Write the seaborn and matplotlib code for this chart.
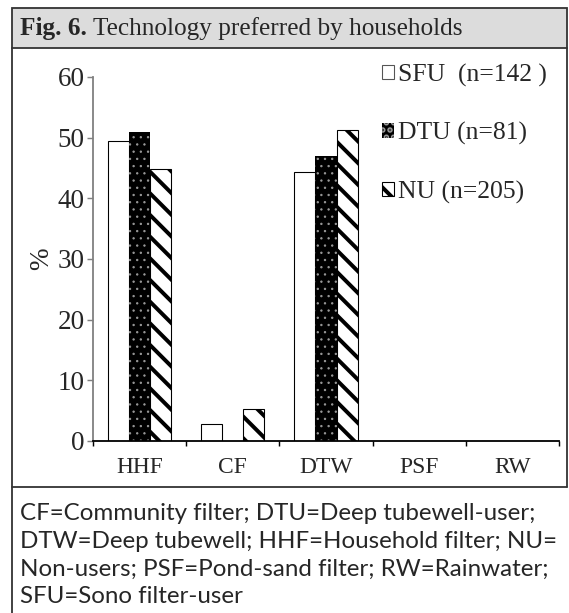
import seaborn as sns
import matplotlib.pyplot as plt
import matplotlib.patches as mpatches
from matplotlib.lines import Line2D
import pandas as pd

categories = ["HHF", "CF", "DTW", "PSF", "RW"]
groups = ["SFU  (n=142 )", "DTU (n=81)", "NU (n=205)"]
sfu = [49.4, 2.8, 44.3, 0, 0]
dtu = [50.9, 0, 46.9, 0, 0]
nu = [44.8, 5.3, 51.2, 0, 0]
yticks = [0, 10, 20, 30, 40, 50, 60]

title_bold = "Fig. 6."
title_rest = "Technology preferred by households"
footnote = ("CF=Community filter; DTU=Deep tubewell-user;\n"
            "DTW=Deep tubewell; HHF=Household filter; NU=\n"
            "Non-users; PSF=Pond-sand filter; RW=Rainwater;\n"
            "SFU=Sono filter-user")

df = pd.DataFrame({
    "tech": categories * 3,
    "group": [g for g in groups for _ in categories],
    "pct": sfu + dtu + nu,
})

W, H, DPI = 569, 613, 130
sns.set_style("white")
plt.rcParams["font.family"] = ["Liberation Serif", "DejaVu Serif"]
plt.rcParams["hatch.linewidth"] = 2.2

fig = plt.figure(figsize=(W / DPI, H / DPI), dpi=DPI)


def fx(x):
    return x / W


def fy(y):
    return 1 - y / H


# frame around the figure panel
border = "#333333"
fig.add_artist(mpatches.Rectangle((fx(12), fy(48)), fx(567) - fx(12), fy(8) - fy(48),
                                  transform=fig.transFigure, facecolor="#dcdcdc",
                                  edgecolor=border, linewidth=1.0))
for xs, ys in [([12, 12], [48, 613]), ([567, 567], [48, 487]), ([12, 567], [487, 487])]:
    fig.add_artist(Line2D([fx(v) for v in xs], [fy(v) for v in ys],
                          transform=fig.transFigure, color=border, linewidth=1.0))

t1 = fig.text(fx(20), fy(29), title_bold, fontsize=14, fontweight="bold",
              va="center", ha="left")
fig.canvas.draw()
bb = t1.get_window_extent()
fig.text(bb.x1 / W + fx(6), fy(29), title_rest, fontsize=14, va="center", ha="left")

fig.text(fx(20), fy(503), footnote, fontsize=13.4, va="top", ha="left",
         family=["Lato", "DejaVu Sans"], linespacing=1.4)

ax = fig.add_axes([fx(93), fy(441), fx(559) - fx(93), fy(77) - fy(441)])

sns.barplot(data=df, x="tech", y="pct", hue="group", hue_order=groups,
            order=categories, palette=["white", "black", "white"],
            width=0.68, gap=0, legend=False, ax=ax, saturation=1)

styles = [
    dict(facecolor="white", edgecolor="black", hatch=None, linewidth=0.6),
    dict(facecolor="black", edgecolor="#9a9a9a", hatch="...", linewidth=0),
    dict(facecolor="white", edgecolor="black", hatch="\\\\", linewidth=0.6),
]
for cont, st in zip(ax.containers, styles):
    for p in cont:
        p.set_facecolor(st["facecolor"])
        p.set_edgecolor(st["edgecolor"])
        p.set_linewidth(st["linewidth"])
        if st["hatch"]:
            p.set_hatch(st["hatch"])
        if st["hatch"] == "..." and hasattr(p, "set_hatch_linewidth"):
            p.set_hatch_linewidth(0.5)

ax.set_ylim(0, 60)
ax.set_xlim(-0.5, 4.5)
ax.set_yticks(yticks)
ax.set_xticks(range(len(categories)))
ax.set_xticklabels(categories)
ax.set_xticks([i + 0.5 for i in range(-1, len(categories))], minor=True)
ax.tick_params(axis="x", which="major", length=0, pad=9, labelsize=13)
ax.tick_params(axis="x", which="minor", length=3, width=0.8, color="black", direction="out",
               bottom=True)
ax.tick_params(axis="y", length=3.5, width=0.8, color="#808080", direction="out",
               left=True, labelsize=15, pad=1)
ax.set_xlabel("")
ax.set_ylabel("%", fontsize=15, labelpad=2)
for s in ["top", "right"]:
    ax.spines[s].set_visible(False)
ax.spines["left"].set_color("#808080")
ax.spines["left"].set_linewidth(1.0)
ax.spines["bottom"].set_color("black")
ax.spines["bottom"].set_linewidth(1.0)

handles = [mpatches.Patch(**{k: v for k, v in st.items() if v is not None}) for st in styles]
handles[0].set_edgecolor("#555555")
ax.legend(handles, groups, loc="upper right", bbox_to_anchor=(0.995, 1.065), frameon=False,
          handlelength=0.5, handleheight=0.5, handletextpad=0.12, labelspacing=1.38,
          fontsize=14.2, borderaxespad=0)

fig.savefig("out.png", dpi=DPI)
